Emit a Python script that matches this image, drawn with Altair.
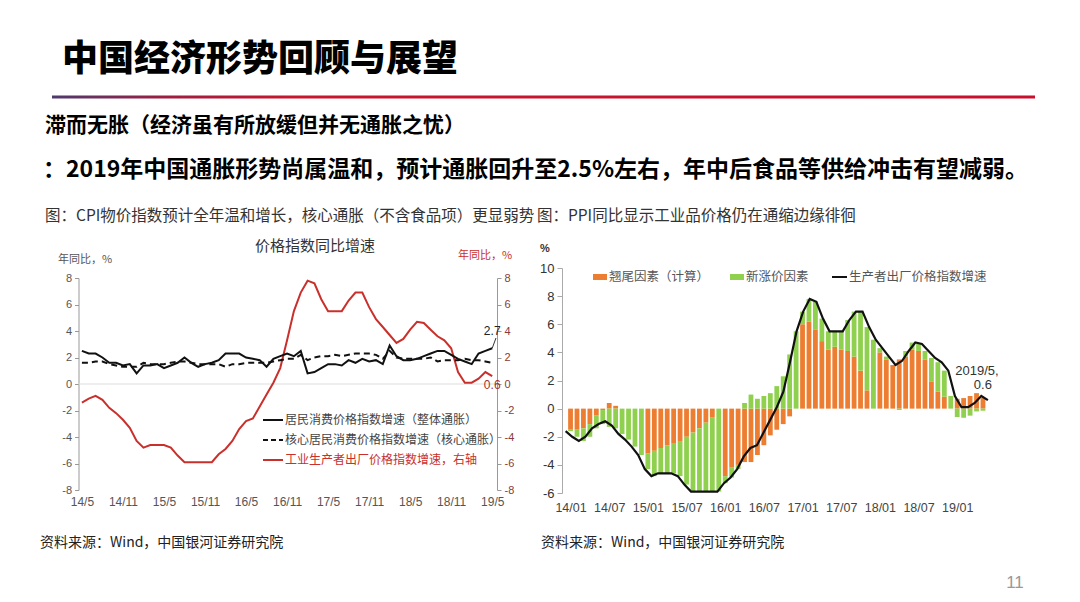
import json
import altair as alt
import pandas as pd

CJK = "Noto Sans CJK SC"
LAT = "Liberation Sans"

# ---------------- text ----------------
title_text = "中国经济形势回顾与展望"
sub1_text = "滞而无胀（经济虽有所放缓但并无通胀之忧）"
sub2_text = "：2019年中国通胀形势尚属温和，预计通胀回升至2.5%左右，年中后食品等供给冲击有望减弱。"
cap_left = "图：CPI物价指数预计全年温和增长，核心通胀（不含食品项）更显弱势"
cap_right = "图：PPI同比显示工业品价格仍在通缩边缘徘徊"
source_text = "资料来源：Wind，中国银河证券研究院"
left_title = "价格指数同比增速"
unit_text = "年同比，%"
page_no = "11"

# ---------------- left panel: 2014/5 - 2019/5 monthly ----------------
left_ticks = ["14/5", "14/11", "15/5", "15/11", "16/5", "16/11",
              "17/5", "17/11", "18/5", "18/11", "19/5"]
left_legend = ["居民消费价格指数增速（整体通胀）",
               "核心居民消费价格指数增速（核心通胀）",
               "工业生产者出厂价格指数增速，右轴"]
cpi = [2.5, 2.3, 2.3, 2.0, 1.6, 1.6, 1.4, 1.5,
       0.8, 1.4, 1.4, 1.5, 1.2, 1.4, 1.6, 2.0, 1.6, 1.3, 1.5, 1.6,
       1.8, 2.3, 2.3, 2.3, 2.0, 1.9, 1.8, 1.3, 1.9, 2.1, 2.3, 2.1,
       2.5, 0.8, 0.9, 1.2, 1.5, 1.5, 1.4, 1.8, 1.6, 1.9, 1.7, 1.8,
       1.5, 2.9, 2.1, 1.8, 1.8, 1.9, 2.1, 2.3, 2.5, 2.5, 2.2, 1.9,
       1.7, 1.5, 2.3, 2.5, 2.7]
core = [1.6, 1.6, 1.7, 1.7, 1.5, 1.4, 1.3, 1.3,
        1.3, 1.6, 1.5, 1.5, 1.5, 1.6, 1.7, 1.7, 1.6, 1.5, 1.5, 1.5,
        1.5, 1.3, 1.5, 1.5, 1.6, 1.6, 1.6, 1.6, 1.7, 1.8, 1.9, 1.9,
        2.2, 1.8, 2.0, 2.1, 2.1, 2.2, 2.1, 2.2, 2.3, 2.3, 2.3, 2.2,
        1.9, 2.5, 2.0, 1.9, 1.9, 1.9, 1.9, 2.0, 1.7, 1.8, 1.8, 1.8,
        1.9, 1.8, 1.8, 1.7, 1.6]

# ---------------- right panel: 2014/01 - 2019/05 monthly ----------------
right_ticks = ["14/01", "14/07", "15/01", "15/07", "16/01", "16/07",
               "17/01", "17/07", "18/01", "18/07", "19/01"]
right_legend = ["翘尾因素（计算）", "新涨价因素", "生产者出厂价格指数增速"]
ppi = [-1.6, -2.0, -2.3, -2.0, -1.4, -1.1, -0.9, -1.2, -1.8, -2.2, -2.7, -3.3,
       -4.3, -4.8, -4.6, -4.6, -4.6, -4.8, -5.4, -5.9, -5.9, -5.9, -5.9, -5.9,
       -5.3, -4.9, -4.3, -3.4, -2.8, -2.6, -1.7, -0.8, 0.1, 1.2, 3.3, 5.5,
       6.9, 7.8, 7.6, 6.4, 5.5, 5.5, 5.5, 6.3, 6.9, 6.9, 5.8, 4.9,
       4.3, 3.7, 3.1, 3.4, 4.1, 4.7, 4.6, 4.1, 3.6, 3.3, 2.7, 0.9,
       0.1, 0.1, 0.4, 0.9, 0.6]
carry = [-1.5, -1.5, -1.4, -1.1, -0.5, -0.1, 0.4, 0.2, 0.0, 0.0, 0.0, 0.0,
         -3.2, -3.0, -2.8, -2.6, -2.5, -2.3, -2.0, -1.7, -1.4, -1.0, -0.6, 0.0,
         -4.8, -4.2, -4.0, -3.8, -3.8, -3.3, -2.6, -1.9, -1.5, -1.1, -0.55, 0.0,
         6.0, 6.2, 5.6, 4.8, 4.2, 4.4, 4.2, 4.1, 3.7, 2.7, 1.3, 0.0,
         4.0, 3.5, 3.1, 3.5, 3.7, 4.2, 4.1, 3.5, 1.9, 1.2, 0.85, 0.0,
         0.7, 0.75, 0.9, 1.1, 0.75]
newp = [-0.1, -0.5, -0.9, -0.9, -0.9, -1.0, -1.3, -1.4, -1.8, -2.2, -2.7, -3.3,
        -1.1, -1.8, -1.8, -2.0, -2.1, -2.5, -3.4, -4.2, -4.5, -4.9, -5.3, -5.9,
        -0.5, -0.7, -0.3, 0.4, 1.0, 0.7, 0.9, 1.1, 1.6, 2.3, 3.85, 5.5,
        0.9, 1.6, 2.0, 1.6, 1.3, 1.1, 1.3, 2.2, 3.2, 4.2, 4.5, 4.9,
        0.3, 0.2, 0.0, -0.1, 0.4, 0.5, 0.5, 0.6, 1.7, 2.1, 1.85, 0.9,
        -0.6, -0.65, -0.5, -0.2, -0.15]
right_annot = ["2019/5,", "0.6"]

# ---------------- colours ----------------
RED = "#c9302c"
ORANGE = "#ed7d31"
GREEN = "#8fd14f"

# ---------------- tables ----------------
ppi_left = ppi[4:]
n_left = len(cpi)
left_df = pd.DataFrame({"t": list(range(n_left)), "cpi": cpi, "core": core, "ppi": ppi_left})
n_right = len(ppi)
bar_df = pd.DataFrame({
    "t": list(range(n_right)) * 2,
    "value": carry + newp,
    "factor": [right_legend[0]] * n_right + [right_legend[1]] * n_right,
    "ord": [0] * n_right + [1] * n_right,
})
rline_df = pd.DataFrame({"t": list(range(n_right)), "ppi": ppi})

# ---------------- scales (page px minus 8 margin) ----------------
LX = alt.Scale(domain=[-0.5, 60.7], range=[70.5, 489], nice=False, zero=False)
LY = alt.Scale(domain=[-8, 8], range=[482, 270], nice=False, zero=False)
RX = alt.Scale(domain=[-0.55, 64.5], range=[554, 983.2], nice=False, zero=False)
RY = alt.Scale(domain=[-6, 10], range=[485, 260], nice=False, zero=False)

W, H = 1064, 586
PLAIN = "'' + datum.value"


def P(v):
    return v - 8


def label(text, x, y, size, color="#333", weight="normal", align="left", font=CJK):
    return alt.Chart(pd.DataFrame({"text": [text]})).mark_text(
        align=align, baseline="middle", fontSize=size, fontWeight=weight,
        color=color, font=font
    ).encode(x=alt.value(P(x)), y=alt.value(P(y)), text="text:N")


def hline(x1, x2, y, color, width=2, dash=None):
    kw = dict(color=color, strokeWidth=width)
    if dash:
        kw["strokeDash"] = dash
    return alt.Chart(pd.DataFrame({"k": [0]})).mark_rule(**kw).encode(
        x=alt.value(P(x1)), x2=alt.value(P(x2)), y=alt.value(P(y)))


def box(x1, x2, y1, y2, color):
    return alt.Chart(pd.DataFrame({"k": [0]})).mark_rect(color=color).encode(
        x=alt.value(P(x1)), x2=alt.value(P(x2)), y=alt.value(P(y1)), y2=alt.value(P(y2)))


layers = []

# ---------------- header ----------------
layers.append(label(title_text, 62, 60, 36, color="#000", weight=900))
grad = alt.LinearGradient(
    gradient="linear",
    stops=[alt.GradientStop(color="#4e3a6e", offset=0),
           alt.GradientStop(color="#a11d3f", offset=0.12),
           alt.GradientStop(color="#c8162c", offset=0.25),
           alt.GradientStop(color="#c8102e", offset=1)],
    x1=0, x2=1, y1=0, y2=0)
layers.append(alt.Chart(pd.DataFrame({"k": [0]})).mark_rect(color=grad).encode(
    x=alt.value(P(52)), x2=alt.value(P(1035)), y=alt.value(P(95.5)), y2=alt.value(P(98.5))))
layers.append(label(sub1_text, 45, 126, 21, color="#000", weight="bold"))
layers.append(label(sub2_text, 43, 170, 23, color="#000", weight="bold"))
layers.append(label(cap_left, 45, 216, 15.5, color="#333"))
layers.append(label(cap_right, 537, 216, 15.5, color="#333"))

# ---------------- left panel ----------------
layers.append(label(left_title, 315, 246, 15, color="#333", align="center"))
layers.append(label(unit_text, 58, 260, 11, color="#555"))
layers.append(label(unit_text, 458, 256, 11, color=RED))

zero_df = pd.DataFrame({"x0": [-0.5], "x1": [60.7], "y": [0]})
layers.append(alt.Chart(zero_df).mark_rule(color="#dddddd", strokeWidth=1).encode(
    x=alt.X("x0:Q", scale=LX, axis=None), x2="x1:Q",
    y=alt.Y("y:Q", scale=LY, axis=None)))

lx_axis = alt.Axis(orient="bottom", offset=-104, values=list(range(0, 61, 6)),
                   labelExpr=json.dumps(left_ticks) + "[round(datum.value/6)]",
                   domain=False, ticks=False, grid=False, labelPadding=6,
                   labelFontSize=12, labelColor="#555", labelFont=LAT,
                   labelFlush=False, labelOverlap=False)
ly_axis = alt.Axis(orient="left", offset=-70.5, values=[-8, -6, -4, -2, 0, 2, 4, 6, 8],
                   labelExpr=PLAIN,
                   grid=False, domainColor="#999", tickColor="#999", tickSize=4,
                   labelPadding=3, labelFontSize=11, labelColor="#555", labelFont=LAT,
                   labelFlush=False, labelOverlap=False)
ly2_axis = alt.Axis(orient="right", offset=-575, values=[-8, -6, -4, -2, 0, 2, 4, 6, 8],
                    labelExpr=PLAIN,
                    grid=False, domainColor="#999", tickColor="#999", tickSize=4,
                    labelPadding=3, labelFontSize=11, labelColor="#8b3a3a", labelFont=LAT,
                    labelFlush=False, labelOverlap=False)

layers.append(alt.Chart(left_df).mark_line(color=RED, strokeWidth=2).encode(
    x=alt.X("t:Q", scale=LX, axis=None),
    y=alt.Y("ppi:Q", scale=LY, axis=ly2_axis, title=None)))
layers.append(alt.Chart(left_df).mark_line(color="#111", strokeWidth=2, strokeDash=[6, 4]).encode(
    x=alt.X("t:Q", scale=LX, axis=None),
    y=alt.Y("core:Q", scale=LY, axis=None)))
layers.append(alt.Chart(left_df).mark_line(color="#111", strokeWidth=2).encode(
    x=alt.X("t:Q", scale=LX, axis=lx_axis, title=None),
    y=alt.Y("cpi:Q", scale=LY, axis=ly_axis, title=None)))

end_df = pd.DataFrame({"t": [n_left - 1], "cpi": [cpi[-1]], "ppi": [ppi_left[-1]],
                       "lc": [str(cpi[-1])], "lp": [str(ppi_left[-1])]})
layers.append(alt.Chart(end_df).mark_rule(color="#333", strokeWidth=1).encode(
    x=alt.X("t:Q", scale=LX, axis=None), y=alt.Y("cpi:Q", scale=LY, axis=None),
    x2=alt.value(P(496)), y2=alt.value(P(338))))
layers.append(alt.Chart(end_df).mark_text(fontSize=12, color="#222", font=LAT, dx=0, dy=-17).encode(
    x=alt.X("t:Q", scale=LX, axis=None), y=alt.Y("cpi:Q", scale=LY, axis=None), text="lc:N"))
layers.append(alt.Chart(end_df).mark_text(fontSize=12, color="#a33030", font=LAT, dx=0, dy=9).encode(
    x=alt.X("t:Q", scale=LX, axis=None), y=alt.Y("ppi:Q", scale=LY, axis=None), text="lp:N"))

# left legend
layers.append(hline(263, 283, 420, "#111", 2))
layers.append(hline(263, 283, 440, "#111", 2, dash=[5, 3]))
layers.append(hline(263, 283, 460, RED, 2))
layers.append(label(left_legend[0], 285, 420, 12, color="#444"))
layers.append(label(left_legend[1], 285, 440, 12, color="#444"))
layers.append(label(left_legend[2], 285, 460, 12, color=RED))

# ---------------- right panel ----------------
layers.append(label("%", 540, 249, 11, color="#333", weight="bold", font=LAT))

rx_axis = alt.Axis(orient="bottom", offset=-101, values=list(range(0, 61, 6)),
                   labelExpr=json.dumps(right_ticks) + "[round(datum.value/6)]",
                   domain=False, ticks=False, grid=False, labelPadding=8,
                   labelFontSize=12.5, labelColor="#444", labelFont=LAT,
                   labelFlush=False, labelOverlap=False)
ry_axis = alt.Axis(orient="left", offset=-554, values=[-6, -4, -2, 0, 2, 4, 6, 8, 10],
                   labelExpr=PLAIN,
                   grid=False, domainColor="#aaa", tickColor="#aaa", tickSize=5,
                   labelPadding=3, labelFontSize=13, labelColor="#333", labelFont=LAT,
                   labelFlush=False, labelOverlap=False)

layers.append(alt.Chart(bar_df).mark_bar(size=4.8).encode(
    x=alt.X("t:Q", scale=RX, axis=rx_axis, title=None),
    y=alt.Y("value:Q", stack="zero", scale=RY, axis=ry_axis, title=None),
    color=alt.Color("factor:N", scale=alt.Scale(domain=right_legend[:2], range=[ORANGE, GREEN]),
                    legend=None),
    order=alt.Order("ord:Q")))
layers.append(alt.Chart(rline_df).mark_line(color="#111", strokeWidth=2.2).encode(
    x=alt.X("t:Q", scale=RX, axis=None),
    y=alt.Y("ppi:Q", scale=RY, axis=None)))

rend_df = pd.DataFrame({"t": [n_right - 1], "ppi": [ppi[-1]],
                        "a": [right_annot[0]], "b": [right_annot[1]]})
layers.append(alt.Chart(rend_df).mark_text(fontSize=13, color="#333", font=LAT, dx=-11, dy=-29).encode(
    x=alt.X("t:Q", scale=RX, axis=None), y=alt.Y("ppi:Q", scale=RY, axis=None), text="a:N"))
layers.append(alt.Chart(rend_df).mark_text(fontSize=13, color="#333", font=LAT, dx=-5, dy=-15).encode(
    x=alt.X("t:Q", scale=RX, axis=None), y=alt.Y("ppi:Q", scale=RY, axis=None), text="b:N"))

# right legend
layers.append(box(593, 607, 274, 280, ORANGE))
layers.append(label(right_legend[0], 609, 277, 12.5, color="#555"))
layers.append(box(730, 744, 274, 280, GREEN))
layers.append(label(right_legend[1], 746, 277, 12.5, color="#555"))
layers.append(hline(832, 847, 277, "#111", 2))
layers.append(label(right_legend[2], 849, 277, 12.5, color="#555"))

# ---------------- footer ----------------
layers.append(label(source_text, 40, 543, 14, color="#222"))
layers.append(label(source_text, 541, 543, 14, color="#222"))
layers.append(label(page_no, 1015, 583, 17, color="#999", align="center", font=LAT))

chart = alt.layer(*layers).resolve_scale(
    x="independent", y="independent", color="independent"
).properties(
    width=W, height=H, padding=0, background="white",
    autosize=alt.AutoSizeParams(type="none"),
).configure_view(stroke=None)

chart.save("out.html", embed_options={"renderer": "svg", "actions": False})
